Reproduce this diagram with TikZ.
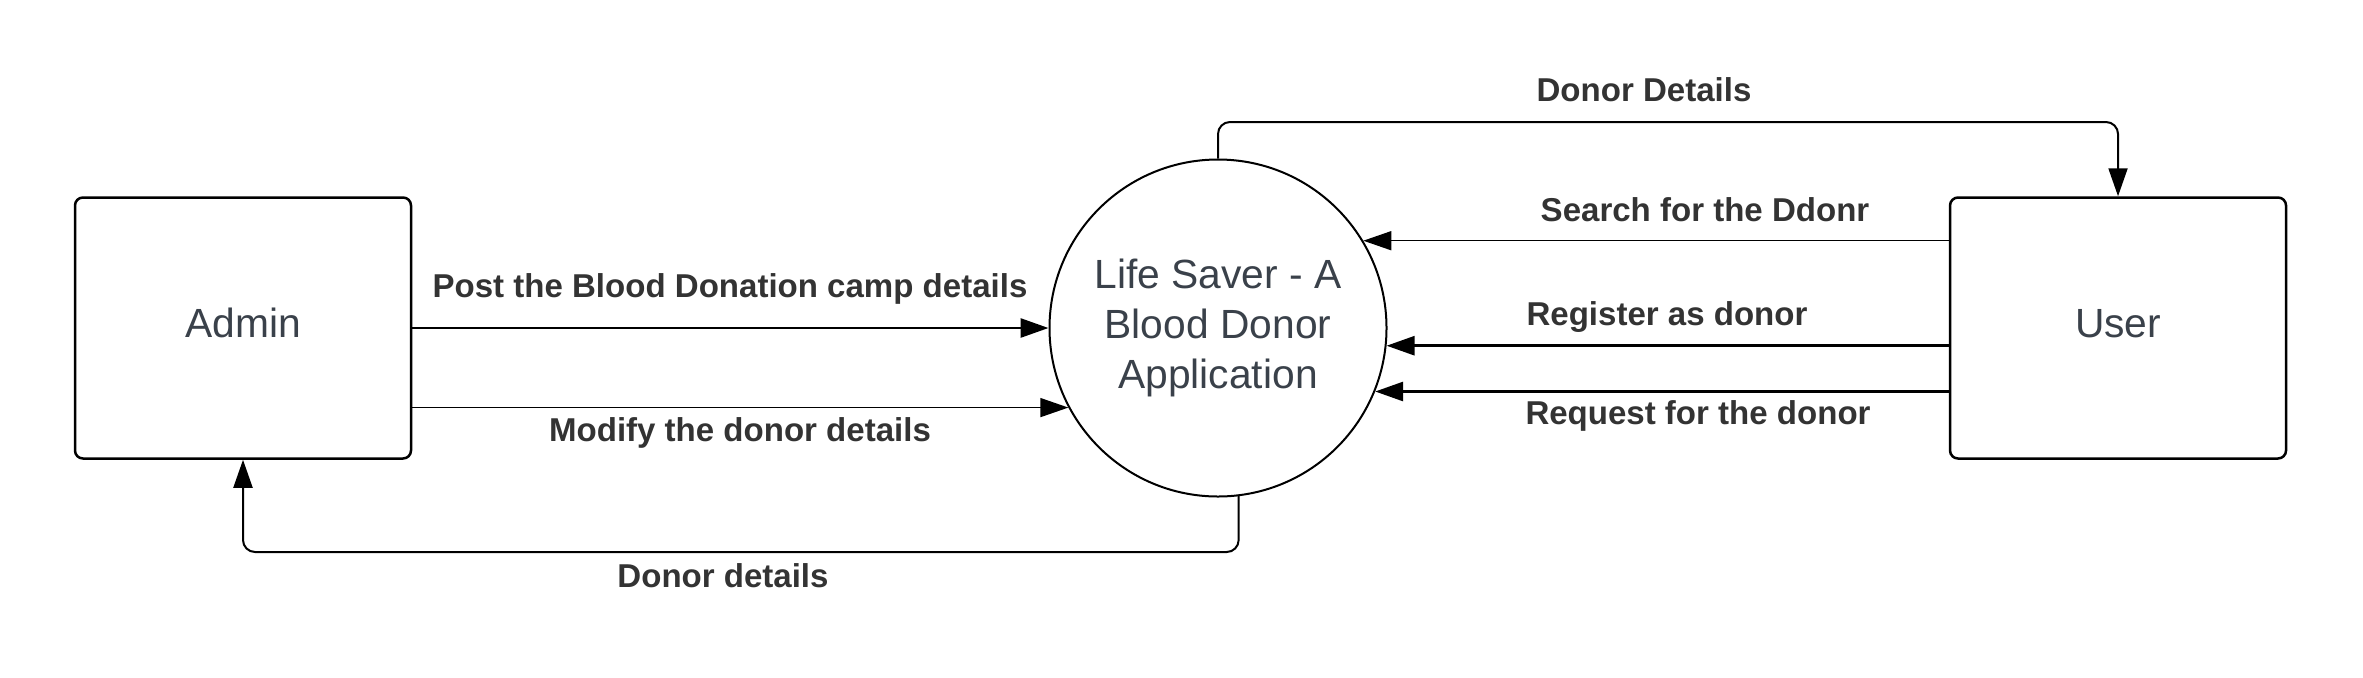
\documentclass[tikz,border=0pt]{standalone}
\usepackage{fontspec}
\setmainfont{Liberation Sans}
\usetikzlibrary{arrows.meta,positioning}
\definecolor{nodetext}{RGB}{58,65,74}
\definecolor{flowtext}{RGB}{51,51,51}

\begin{document}
\begin{tikzpicture}[x=0.1mm, y=-0.1mm,
    entity/.style={rectangle, draw, line width=0.25mm, rounded corners=0.8mm,
        minimum width=33.6mm, minimum height=26.1mm, text depth=1mm,
        font=\fontsize{11.6}{14.2}\selectfont, text=nodetext},
    process/.style={circle, draw, line width=0.2mm, minimum size=33.7mm,
        inner sep=0pt, align=center,
        font=\fontsize{11.6}{14.2}\selectfont, text=nodetext},
    flowlbl/.style={font=\fontsize{9.4}{11}\selectfont\bfseries, text=flowtext},
    arr/.style={-{Triangle[length=2.8mm,width=1.9mm]}, line width=0.28mm},
    thinarr/.style={arr, line width=0.15mm},
    looparr/.style={arr, line width=0.2mm, rounded corners=1.2mm}
]
    \useasboundingbox (0,0) rectangle (2363,677);
    \node[entity] (admin) at (243,328) {Admin};
    \node[process] (app) at (1218,328) {Life Saver - A\\Blood Donor\\Application};
    \node[entity] (user) at (2118,328) {User};

    % admin side
    \draw[arr] (admin.east) -- (app.west);
    \draw[thinarr] (admin.east |- app.208) -- (app.208);
    \draw[looparr] (app.-83) -- (app.-83 |- 0,552) -| (admin.south);
    \node[flowlbl] (postlbl) at (730,289) {Post the Blood Donation camp details};
    \node[flowlbl] (modlbl) at (740,433) {Modify the donor details};
    \node[flowlbl] (admdonlbl) at (723,576) {Donor details};

    % user side
    \draw[looparr] (app.north) -- (app.north |- 0,122) -| (user.north);
    \draw[thinarr] (user.west |- app.31) -- (app.31);
    \draw[arr] (user.west |- app.-6) -- (app.-6);
    \draw[arr] (user.west |- app.-22) -- (app.-22);
    \node[flowlbl] (usrdonlbl) at (1644,90) {Donor Details};
    \node[flowlbl] (searchlbl) at (1705,210) {Search for the Ddonr};
    \node[flowlbl] (reglbl) at (1667,317) {Register as donor};
    \node[flowlbl] (reqlbl) at (1698,416) {Request for the donor};
\end{tikzpicture}
\end{document}
